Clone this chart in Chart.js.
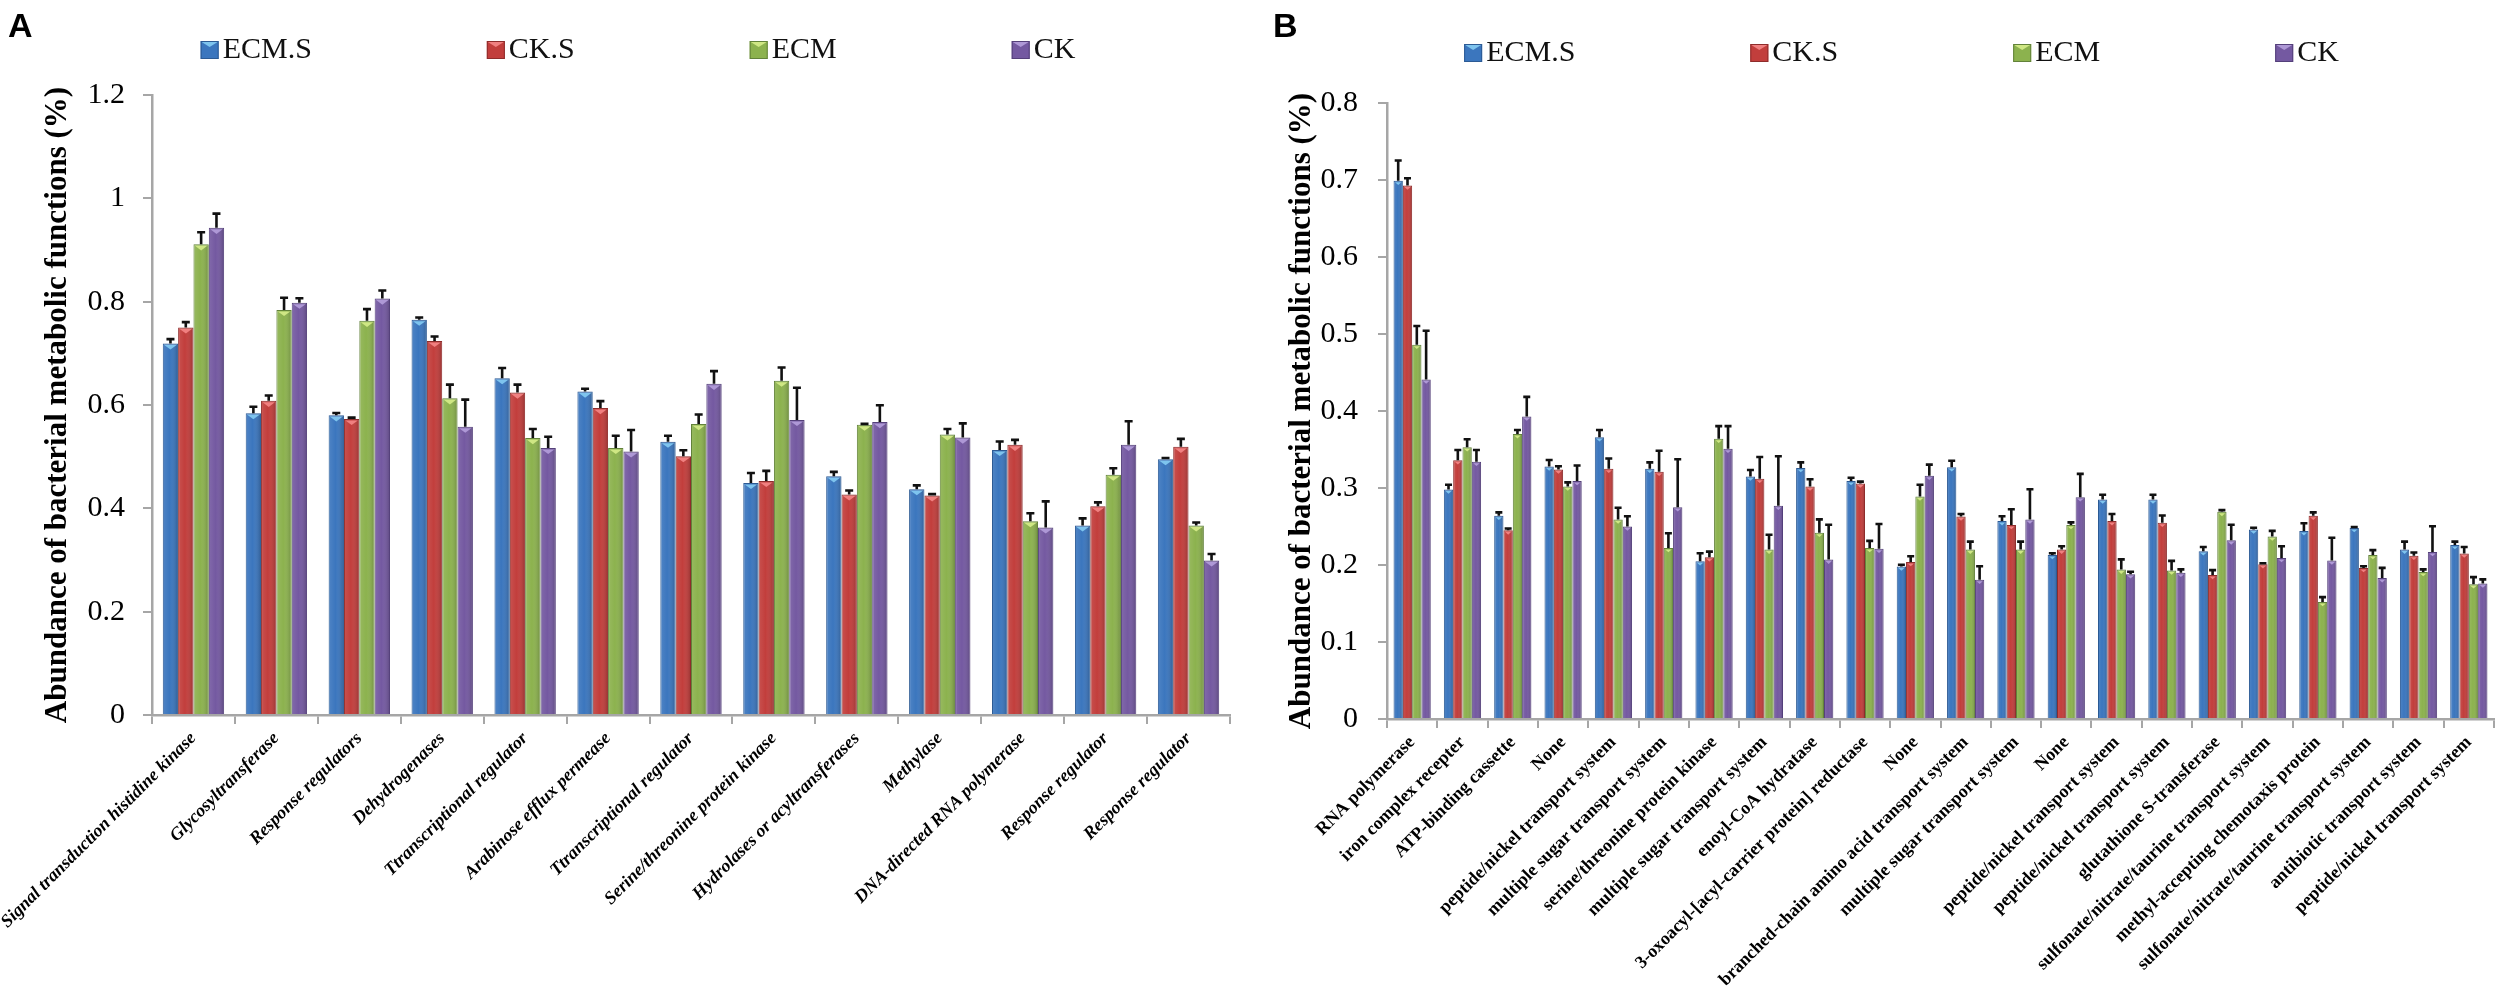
<!DOCTYPE html>
<html>
<head>
<meta charset="utf-8">
<script src="https://cdn.jsdelivr.net/npm/chart.js@4.4.1/dist/chart.umd.min.js"></script>
<style>
html,body{margin:0;padding:0;background:#fff;width:2500px;height:1002px;overflow:hidden}
.wrap{position:absolute;top:0;height:1002px}
#wa{left:0;width:1280px}
#wb{left:1260px;width:1240px}
canvas{display:block}
</style>
</head>
<body>
<div class="wrap" id="wa"><canvas id="ca" width="1280" height="1002"></canvas></div>
<div class="wrap" id="wb"><canvas id="cb" width="1240" height="1002"></canvas></div>
<script>
// ---------- DATA ----------
const seriesNames = ['ECM.S', 'CK.S', 'ECM', 'CK'];

const categoriesA = [
  'Signal transduction histidine kinase', 'Glycosyltransferase', 'Response regulators',
  'Dehydrogenases', 'Ttranscriptional regulator', 'Arabinose efflux permease',
  'Ttranscriptional regulator', 'Serine/threonine protein kinase', 'Hydrolases or acyltransferases',
  'Methylase', 'DNA-directed RNA polymerase', 'Response regulator', 'Response regulator'
];
const ecmsA    = [0.719, 0.584, 0.580, 0.765, 0.652, 0.626, 0.529, 0.449, 0.462, 0.437, 0.513, 0.367, 0.495];
const ecmsAErr = [0.011, 0.015, 0.007, 0.007, 0.022, 0.008, 0.014, 0.022, 0.011, 0.010, 0.019, 0.016, 0.005];
const cksA     = [0.750, 0.608, 0.573, 0.724, 0.624, 0.594, 0.501, 0.453, 0.427, 0.425, 0.523, 0.404, 0.519];
const cksAErr  = [0.013, 0.013, 0.005, 0.011, 0.018, 0.016, 0.014, 0.022, 0.010, 0.005, 0.012, 0.010, 0.018];
const ecmA     = [0.911, 0.784, 0.763, 0.613, 0.536, 0.517, 0.563, 0.647, 0.562, 0.543, 0.375, 0.465, 0.367];
const ecmAErr  = [0.026, 0.026, 0.025, 0.029, 0.020, 0.026, 0.021, 0.028, 0.004, 0.013, 0.018, 0.015, 0.008];
const ckA      = [0.943, 0.798, 0.806, 0.558, 0.517, 0.510, 0.641, 0.571, 0.567, 0.537, 0.363, 0.523, 0.299];
const ckAErr   = [0.030, 0.011, 0.018, 0.055, 0.024, 0.044, 0.027, 0.065, 0.035, 0.030, 0.053, 0.048, 0.015];
const yTicksA      = [0, 0.2, 0.4, 0.6, 0.8, 1, 1.2];
const yTickLabelsA = ['0', '0.2', '0.4', '0.6', '0.8', '1', '1.2'];

const categoriesB = [
  'RNA polymerase', 'iron complex recepter', 'ATP-binding cassette', 'None',
  'peptide/nickel transport system', 'multiple sugar transport system', 'serine/threonine protein kinase',
  'multiple sugar transport system', 'enoyl-CoA hydratase', '3-oxoacyl-[acyl-carrier protein] reductase',
  'None', 'branched-chain amino acid transport system', 'multiple sugar transport system', 'None',
  'peptide/nickel transport system', 'peptide/nickel transport system', 'glutathione S-transferase',
  'sulfonate/nitrate/taurine transport system', 'methyl-accepting chemotaxis protein',
  'sulfonate/nitrate/taurine transport system', 'antibiotic transport system', 'peptide/nickel transport system'
];
const ecmsB    = [0.699, 0.298, 0.264, 0.328, 0.366, 0.325, 0.205, 0.315, 0.326, 0.309, 0.198, 0.327, 0.257, 0.213, 0.285, 0.285, 0.218, 0.246, 0.244, 0.248, 0.220, 0.226];
const ecmsBErr = [0.028, 0.008, 0.006, 0.010, 0.011, 0.010, 0.012, 0.010, 0.009, 0.006, 0.004, 0.010, 0.008, 0.004, 0.008, 0.008, 0.007, 0.004, 0.012, 0.003, 0.012, 0.006];
const cksB     = [0.693, 0.336, 0.245, 0.324, 0.325, 0.321, 0.210, 0.312, 0.302, 0.306, 0.204, 0.263, 0.252, 0.220, 0.257, 0.255, 0.187, 0.201, 0.264, 0.196, 0.212, 0.215];
const cksBErr  = [0.011, 0.015, 0.004, 0.006, 0.015, 0.029, 0.009, 0.030, 0.011, 0.004, 0.009, 0.005, 0.022, 0.006, 0.011, 0.011, 0.008, 0.003, 0.006, 0.004, 0.006, 0.010];
const ecmB     = [0.486, 0.353, 0.370, 0.302, 0.259, 0.222, 0.364, 0.220, 0.242, 0.222, 0.289, 0.220, 0.220, 0.252, 0.194, 0.193, 0.269, 0.237, 0.152, 0.213, 0.191, 0.175];
const ecmBErr  = [0.026, 0.012, 0.007, 0.007, 0.017, 0.021, 0.018, 0.021, 0.019, 0.011, 0.017, 0.012, 0.012, 0.005, 0.015, 0.014, 0.004, 0.009, 0.008, 0.008, 0.005, 0.011];
const ckB      = [0.441, 0.334, 0.393, 0.309, 0.250, 0.275, 0.351, 0.277, 0.207, 0.221, 0.316, 0.181, 0.259, 0.288, 0.188, 0.190, 0.232, 0.209, 0.206, 0.183, 0.217, 0.176];
const ckBErr   = [0.065, 0.017, 0.027, 0.022, 0.015, 0.064, 0.031, 0.066, 0.047, 0.034, 0.016, 0.019, 0.041, 0.032, 0.005, 0.006, 0.022, 0.017, 0.031, 0.015, 0.035, 0.007];
const yTicksB      = [0, 0.1, 0.2, 0.3, 0.4, 0.5, 0.6, 0.7, 0.8];
const yTickLabelsB = ['0', '0.1', '0.2', '0.3', '0.4', '0.5', '0.6', '0.7', '0.8'];

const yTitle = 'Abundance of bacterial metabolic functions (%)';

// ---------- STYLE ----------
const fills   = ['#3B76BE', '#C23E3C', '#8CB24E', '#7459A1'];
const borders = ['#2C5A94', '#8E2C2B', '#62823A', '#54407A'];
const highs   = ['#7EC4EE', '#F08080', '#CFE784', '#AE98D6'];
const SERIF = '"Liberation Serif", "Times New Roman", serif';
const AXIS_GRAY = '#A6A6A6';

Chart.defaults.font.family = SERIF;
Chart.defaults.color = '#000';

function makeDatasets(vals, errs) {
  return vals.map((v, i) => ({
    label: seriesNames[i],
    data: v,
    errors: errs[i],
    backgroundColor: fills[i],
    borderColor: borders[i],
    borderWidth: 1,
    highlight: highs[i],
    categoryPercentage: 0.74,
    barPercentage: 1.0
  }));
}

// shading + error bars
const barDeco = {
  id: 'barDeco',
  afterDatasetsDraw(chart, args, opts) {
    const ctx = chart.ctx;
    const yScale = chart.scales.y;
    chart.data.datasets.forEach((ds, di) => {
      const meta = chart.getDatasetMeta(di);
      meta.data.forEach((el, i) => {
        const p = el.getProps(['x', 'y', 'base', 'width'], true);
        const left = p.x - p.width / 2, right = p.x + p.width / 2;
        ctx.save();
        const g = ctx.createLinearGradient(left, 0, right, 0);
        g.addColorStop(0, 'rgba(255,255,255,0.10)');
        g.addColorStop(0.45, 'rgba(255,255,255,0.0)');
        g.addColorStop(1, 'rgba(0,0,0,0.22)');
        ctx.fillStyle = g;
        ctx.fillRect(left + 1, p.y + 1, p.width - 2, p.base - p.y - 1);
        // top bevel
        ctx.fillStyle = ds.highlight;
        ctx.beginPath();
        ctx.moveTo(left + 1.5, p.y + 1.5);
        ctx.lineTo(right - 1.5, p.y + 1.5);
        ctx.lineTo(p.x, p.y + 1.5 + p.width * 0.3);
        ctx.closePath();
        ctx.fill();
        ctx.restore();
      });
    });
    // error bars
    chart.data.datasets.forEach((ds, di) => {
      const meta = chart.getDatasetMeta(di);
      meta.data.forEach((el, i) => {
        const p = el.getProps(['x', 'y', 'width'], true);
        const top = yScale.getPixelForValue(ds.data[i] + ds.errors[i]);
        const cw = opts.cap;
        ctx.save();
        ctx.strokeStyle = '#111';
        ctx.lineWidth = opts.lw;
        ctx.beginPath();
        ctx.moveTo(p.x, p.y);
        ctx.lineTo(p.x, top);
        ctx.moveTo(p.x - cw / 2, top + opts.lw / 2);
        ctx.lineTo(p.x + cw / 2, top + opts.lw / 2);
        ctx.stroke();
        ctx.restore();
      });
    });
  }
};

// Excel-like legend spread across the top + panel letter
const topDeco = {
  id: 'topDeco',
  afterDraw(chart, args, opts) {
    const ctx = chart.ctx;
    const ca = chart.chartArea;
    ctx.save();
    ctx.font = '30px ' + SERIF;
    const box = 18, tgap = 4;
    const items = chart.data.datasets.map((ds, i) => ({
      text: ds.label, fill: fills[i], border: borders[i], high: highs[i],
      w: box + tgap + ctx.measureText(ds.label).width
    }));
    const total = items.reduce((s, it) => s + it.w, 0) + opts.gap * (items.length - 1);
    let x = (ca.left + ca.right) / 2 + opts.shift - total / 2;
    const y = opts.y;
    items.forEach(it => {
      ctx.fillStyle = it.fill;
      ctx.fillRect(x, y - box / 2, box, box);
      ctx.fillStyle = it.high;
      ctx.beginPath();
      ctx.moveTo(x + 1, y - box / 2 + 1);
      ctx.lineTo(x + box - 1, y - box / 2 + 1);
      ctx.lineTo(x + box / 2, y - box / 2 + 6);
      ctx.closePath();
      ctx.fill();
      ctx.strokeStyle = it.border;
      ctx.lineWidth = 1;
      ctx.strokeRect(x + 0.5, y - box / 2 + 0.5, box - 1, box - 1);
      ctx.fillStyle = '#111';
      ctx.textBaseline = 'alphabetic';
      ctx.textAlign = 'left';
      ctx.fillText(it.text, x + box + tgap, y + 8);
      x += it.w + opts.gap;
    });
    ctx.font = 'bold 34px "Liberation Sans", Arial, sans-serif';
    ctx.fillStyle = '#000';
    ctx.fillText(opts.letter, opts.letterX, 37);
    ctx.restore();
  }
};

function makeChart(canvasId, cfg) {
  return new Chart(document.getElementById(canvasId), {
    type: 'bar',
    data: { labels: cfg.labels, datasets: makeDatasets(cfg.vals, cfg.errs) },
    plugins: [barDeco, topDeco],
    options: {
      responsive: false,
      animation: false,
      devicePixelRatio: 1,
      layout: { padding: cfg.padding },
      plugins: {
        legend: { display: false },
        tooltip: { enabled: false },
        barDeco: { cap: cfg.cap, lw: 2.6 },
        topDeco: { y: cfg.legendY, shift: cfg.legendShift, gap: 175, letter: cfg.letter, letterX: cfg.letterX }
      },
      scales: {
        x: {
          grid: { offset: true, drawOnChartArea: false, drawTicks: true, tickLength: 9, color: AXIS_GRAY, lineWidth: 2 },
          border: { display: true, color: AXIS_GRAY, width: 2.5 },
          ticks: {
            autoSkip: false, minRotation: 45, maxRotation: 45, padding: 4, color: '#000',
            font: { family: SERIF, size: 18, weight: 'bold', style: cfg.xStyle }
          },
          afterFit(s) { s.height = cfg.xHeight; s.paddingLeft = 0; s.paddingRight = 0; }
        },
        y: {
          min: 0, max: cfg.yMax,
          afterBuildTicks(s) { s.ticks = cfg.yTicks.map(v => ({ value: v })); },
          ticks: {
            padding: cfg.yPad, color: '#000', font: { family: SERIF, size: 30 },
            callback: (v, idx) => cfg.yLabels[idx]
          },
          grid: { drawOnChartArea: false, drawTicks: true, tickLength: 9, color: AXIS_GRAY, lineWidth: 2 },
          border: { display: true, color: AXIS_GRAY, width: 2.5 },
          title: {
            display: true, text: yTitle, color: '#000',
            font: { family: SERIF, size: 31, weight: 'bold', lineHeight: 1.2 },
            padding: { top: cfg.titlePad, bottom: 0 }
          },
          afterFit(s) { s.width = cfg.yWidth; s.paddingTop = 0; s.paddingBottom = 0; }
        }
      }
    }
  });
}

makeChart('ca', {
  labels: categoriesA,
  vals: [ecmsA, cksA, ecmA, ckA],
  errs: [ecmsAErr, cksAErr, ecmAErr, ckAErr],
  padding: { left: 0, top: 95, right: 50, bottom: 0 },
  yMax: 1.2, yTicks: yTicksA, yLabels: yTickLabelsA, yPad: 18,
  yWidth: 152, xHeight: 287, titlePad: 39, xStyle: 'italic',
  cap: 8, legendY: 50, legendShift: -53, letter: 'A', letterX: 8
});

makeChart('cb', {
  labels: categoriesB,
  vals: [ecmsB, cksB, ecmB, ckB],
  errs: [ecmsBErr, cksBErr, ecmBErr, ckBErr],
  padding: { left: 0, top: 103, right: 6, bottom: 0 },
  yMax: 0.8, yTicks: yTicksB, yLabels: yTickLabelsB, yPad: 20,
  yWidth: 127, xHeight: 283, titlePad: 23, xStyle: 'normal',
  cap: 7, legendY: 53, legendShift: -39, letter: 'B', letterX: 13
});
</script>
</body>
</html>
